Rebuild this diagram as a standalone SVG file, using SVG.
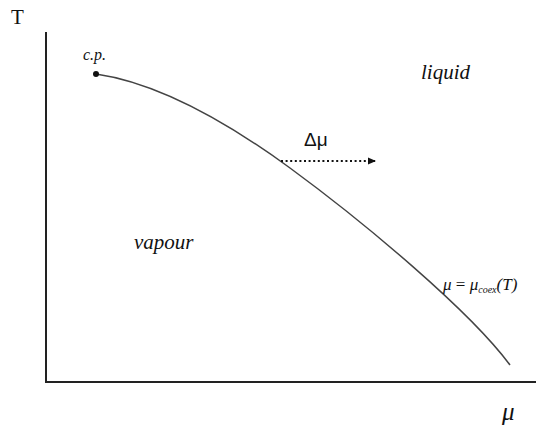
<svg xmlns="http://www.w3.org/2000/svg" width="536" height="425" viewBox="0 0 536 425">
<style>
text{fill:#111}
.s{font-family:'Liberation Serif','Times New Roman',serif}
.i{font-style:italic}
.ax{stroke:#222;stroke-width:2;fill:none}
</style>
<defs>
<marker id="ah" markerWidth="8" markerHeight="8" refX="7" refY="4" orient="auto" markerUnits="userSpaceOnUse">
<path d="M0,0.5 L8,4 L0,7.5 Z" fill="#111"/>
</marker>
</defs>
<rect width="536" height="425" fill="#fff"/>
<g id="axes">
<line class="ax" x1="46" y1="32" x2="46" y2="382"/>
<line class="ax" x1="45" y1="382" x2="536" y2="382"/>
</g>
<g id="connectors">
<path d="M96,74 C158,83 225,120.5 290,168 C365,223 470,311 510,365" fill="none" stroke="#444" stroke-width="1.5"/>
<line x1="281" y1="161" x2="375" y2="161" stroke="#111" stroke-width="2" stroke-dasharray="2,2.6" marker-end="url(#ah)"/>
</g>
<g id="cp">
<circle cx="96" cy="74" r="3" fill="#111"/>
<text class="s i" x="83" y="60" font-size="16">c.p.</text>
</g>
<g id="labels">
<text class="s" x="11" y="24" font-size="21">T</text>
<text class="s i" x="421" y="79" font-size="21">liquid</text>
<text class="s i" x="134" y="249" font-size="21">vapour</text>
<text x="304" y="146" font-size="19" style="font-family:'Liberation Sans',Arial,sans-serif">Δμ</text>
<text class="s" x="443" y="290" font-size="17"><tspan class="i">μ</tspan> = <tspan class="i">μ</tspan><tspan class="i" font-size="10" dy="3">coex</tspan><tspan class="i" dy="-3">(T)</tspan></text>
<text class="s i" x="502" y="420" font-size="25">μ</text>
</g>
</svg>
